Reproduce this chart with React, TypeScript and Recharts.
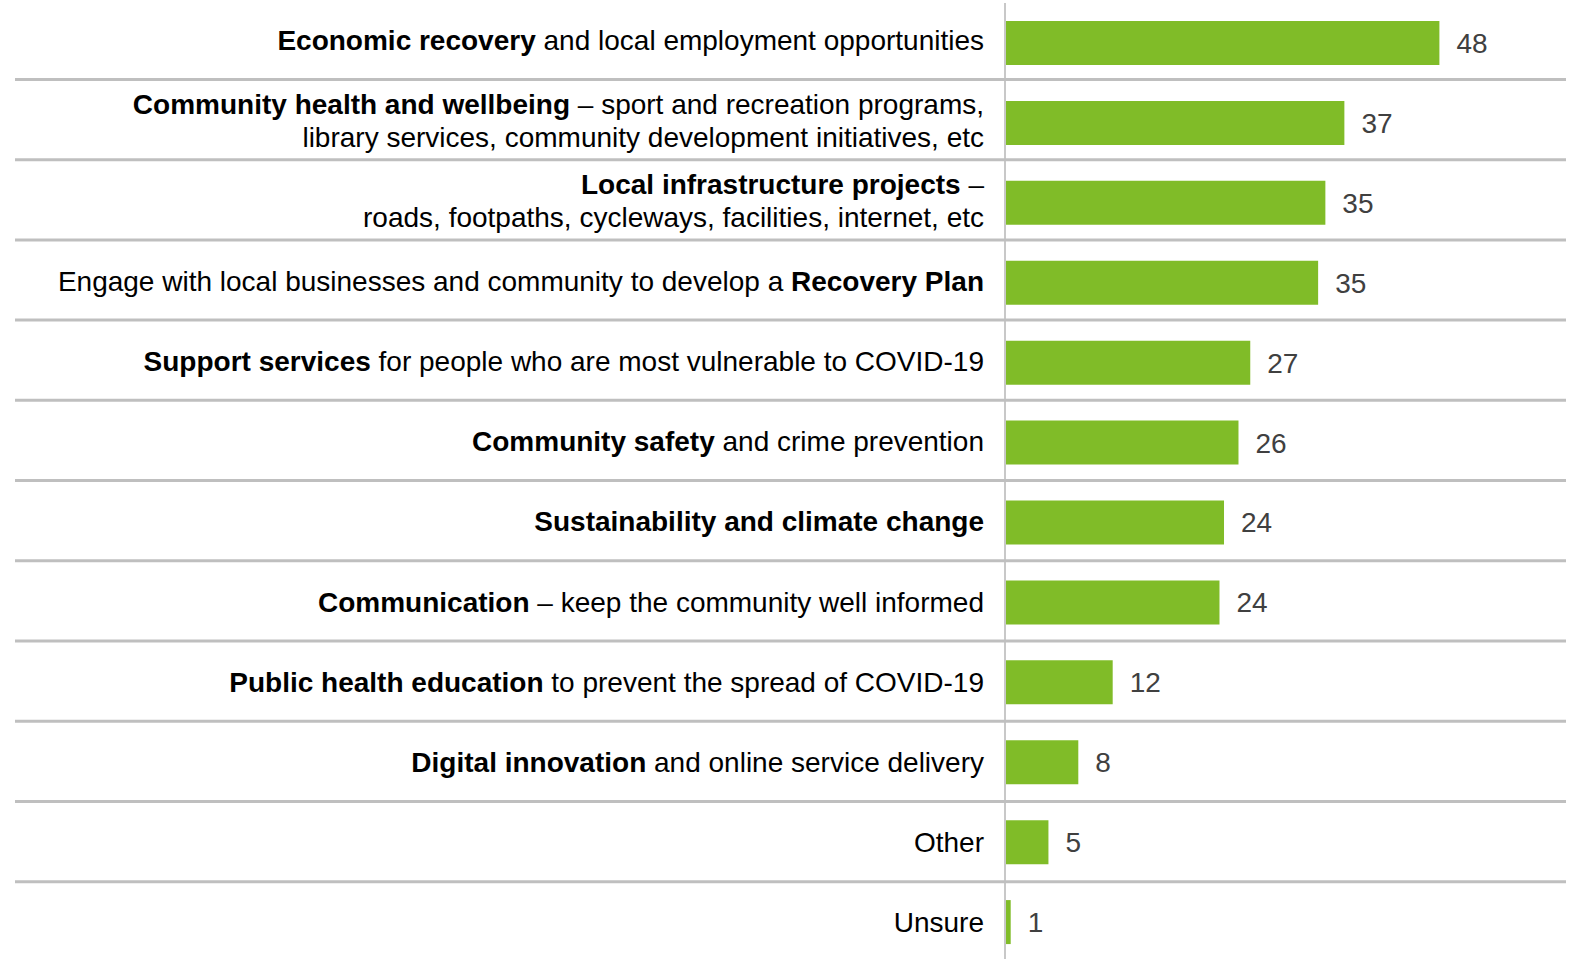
import React from 'react';
import { BarChart, Bar, XAxis, YAxis, LabelList } from 'recharts';

// row keys, top to bottom
const categories = [
  'Economic recovery',
  'Community health and wellbeing',
  'Local infrastructure projects',
  'Recovery Plan',
  'Support services',
  'Community safety',
  'Sustainability and climate change',
  'Communication',
  'Public health education',
  'Digital innovation',
  'Other',
  'Unsure'
];

const values = [48.0, 37.5, 35.4, 34.6, 27.1, 25.8, 24.2, 23.7, 11.9, 8.1, 4.8, 0.63];
const shownValues = [48, 37, 35, 35, 27, 26, 24, 24, 12, 8, 5, 1];

// each label: lines of [text, bold] pieces
const labelLines: [string, boolean][][][] = [
  [[['Economic recovery', true], [' and local employment opportunities', false]]],
  [
    [['Community health and wellbeing', true], [' \u2013 sport and recreation programs,', false]],
    [['library services, community development initiatives, etc', false]]
  ],
  [
    [['Local infrastructure projects', true], [' \u2013', false]],
    [['roads, footpaths, cycleways, facilities, internet, etc', false]]
  ],
  [[['Engage with local businesses and community to develop a ', false], ['Recovery Plan', true]]],
  [[['Support services', true], [' for people who are most vulnerable to COVID-19', false]]],
  [[['Community safety', true], [' and crime prevention', false]]],
  [[['Sustainability and climate change', true]]],
  [[['Communication', true], [' \u2013 keep the community well informed', false]]],
  [[['Public health education', true], [' to prevent the spread of COVID-19', false]]],
  [[['Digital innovation', true], [' and online service delivery', false]]],
  [[['Other', false]]],
  [[['Unsure', false]]]
];

const data = categories.map((name, i) => ({ name, value: values[i], label: shownValues[i] }));

const FONT = '"Liberation Sans", Arial, sans-serif';

function CategoryTick(props: any) {
  const { x, y, index } = props;
  const lines = labelLines[index] || [];
  const lineGap = 33;
  // labels and rules drift a touch from the bar centres in the original
  const drift = -3 + index * 0.3;
  const startY = y + drift - ((lines.length - 1) * lineGap) / 2;
  return (
    <g>
      {index < categories.length - 1 && (
        <line x1={15} x2={1566} y1={y + 36.5 + index * 0.3} y2={y + 36.5 + index * 0.3} stroke="#BFBFBF" strokeWidth={3} />
      )}
      {lines.map((parts, li) => (
        <text
          key={li}
          x={x}
          y={startY + li * lineGap}
          dy="0.36em"
          textAnchor="end"
          fontSize={28}
          fontFamily={FONT}
          fill="#000"
          style={{ whiteSpace: 'pre' }}
        >
          {parts.map(([t, b], pi) => (
            <tspan key={pi} fontWeight={b ? 'bold' : 'normal'}>{t}</tspan>
          ))}
        </text>
      ))}
    </g>
  );
}

export default function App() {
  return (
    <div style={{ position: 'absolute', left: 0, top: 0, width: 1575, height: 959, overflow: 'hidden', background: '#fff' }}>
      <BarChart
        width={1575}
        height={962}
        data={data}
        layout="vertical"
        margin={{ top: 3, right: 27, bottom: 0, left: 0 }}
      >
        <XAxis type="number" domain={[0, 60]} hide />
        <YAxis
          type="category"
          dataKey="name"
          width={1005}
          interval={0}
          tickSize={0}
          tickMargin={21}
          tickLine={false}
          axisLine={{ stroke: '#C8C8C8', strokeWidth: 2 }}
          tick={<CategoryTick />}
        />
        <Bar dataKey="value" fill="#80BC28" barSize={44} isAnimationActive={false}>
          <LabelList
            dataKey="label"
            position="right"
            offset={17}
            fill="#404040"
            fontSize={28}
            fontFamily={FONT}
          />
        </Bar>
      </BarChart>
    </div>
  );
}
